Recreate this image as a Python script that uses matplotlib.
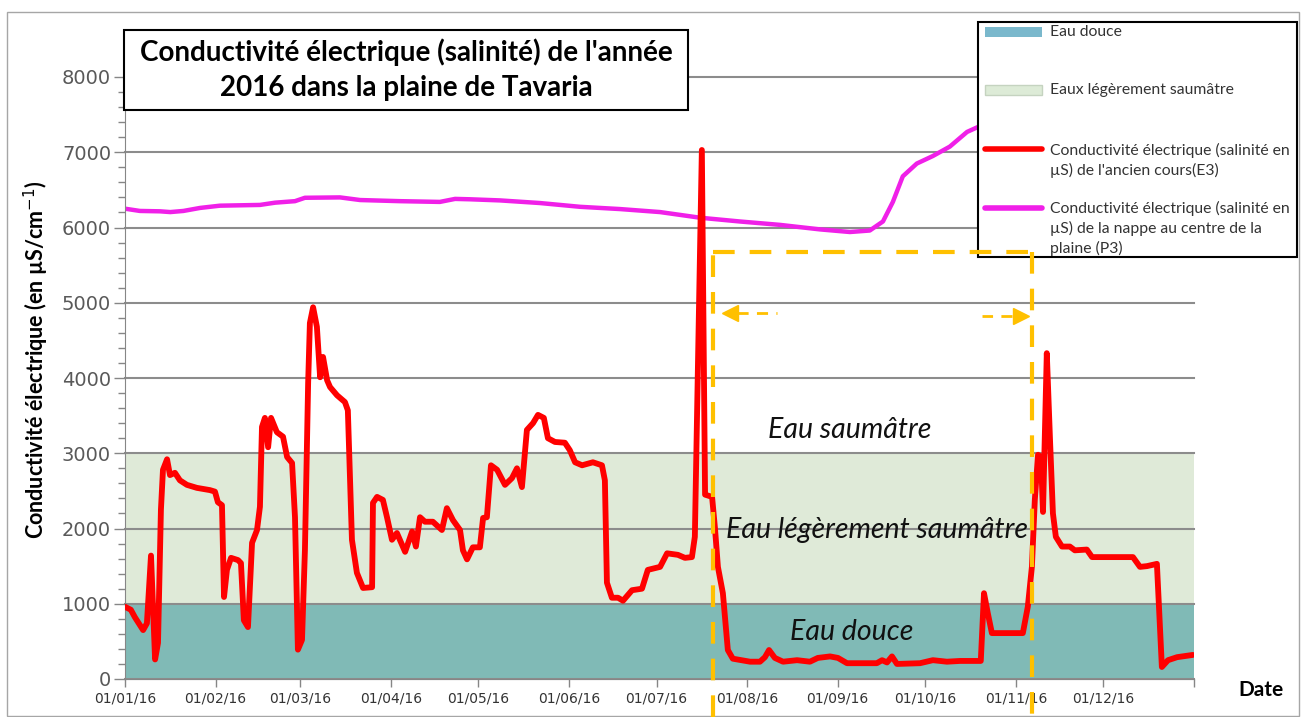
import matplotlib
matplotlib.use('Agg')
import matplotlib.pyplot as plt
import matplotlib.dates as mdates
from matplotlib.ticker import MultipleLocator, FuncFormatter
from matplotlib.patches import Rectangle
from matplotlib.lines import Line2D
import numpy as np
import pandas as pd

# ---------------- data (day offset from 01/01/2016, value in µS/cm) ----------------
e3_days = [
    0, 2, 3.4, 6.2, 7.5, 8.9, 10.3, 11.3, 12.3, 13.0,
    14.4, 15.4, 17.1, 18.8, 21.2, 24.6, 29.1, 30.8, 31.8, 33.2,
    33.9, 34.9, 36.3, 38.7, 39.7, 40.7, 42.1, 43.5, 45.2, 46.2,
    46.9, 47.9, 49.0, 50.0, 52.0, 54.1, 55.5, 57.2, 58.2, 59.2,
    60.6, 61.6, 62.7, 63.3, 64.4, 65.7, 66.8, 67.8, 69.2, 70.2,
    72.6, 75.3, 76.3, 77.7, 79.4, 81.5, 84.6, 84.9, 86.3, 88.3,
    89.7, 91.4, 93.1, 95.9, 98.3, 99.6, 101.0, 102.7, 105.4, 108.5,
    110.2, 112.3, 114.7, 115.7, 117.1, 119.1, 121.5, 122.6, 123.9, 125.3,
    127.4, 130.1, 132.5, 134.2, 135.9, 137.6, 139.7, 141.4, 143.4, 144.8,
    147.2, 150.6, 152.3, 154.1, 156.5, 160.2, 163.3, 164.3, 165.0, 166.7,
    168.8, 170.5, 173.6, 177.0, 179.0, 183.2, 185.6, 189.3, 191.7, 194.1,
    195.1, 197.5, 198.6, 201.0, 202.0, 203.0, 204.7, 206.4, 208.1, 214.0,
    217.4, 219.1, 220.5, 222.5, 225.3, 230.1, 234.5, 237.2, 241.4, 244.1,
    247.2, 257.4, 259.2, 260.9, 262.6, 264.3, 272.2, 276.6, 281.4, 285.9,
    292.0, 293.0, 294.1, 295.4, 296.8, 307.4, 309.1, 310.5, 311.5, 312.6,
    313.6, 314.3, 315.6, 316.7, 317.7, 318.7, 320.8, 323.5, 325.2, 329.3,
    331.1, 345.1, 347.5, 349.9, 353.3, 355.0, 357.1, 360.2, 365.6]
e3_values = [
    960, 920, 820, 650, 740, 1640, 260, 480, 2250, 2780,
    2920, 2710, 2740, 2640, 2580, 2540, 2510, 2490, 2350, 2310,
    1090, 1450, 1610, 1580, 1540, 780, 690, 1810, 1980, 2290,
    3350, 3470, 3080, 3470, 3280, 3220, 2950, 2870, 2150, 390,
    520, 1710, 3930, 4730, 4940, 4680, 4010, 4280, 3970, 3880,
    3770, 3680, 3570, 1850, 1410, 1210, 1220, 2340, 2420, 2380,
    2150, 1850, 1940, 1690, 1960, 1760, 2150, 2090, 2090, 1980,
    2270, 2110, 1980, 1710, 1590, 1750, 1750, 2140, 2150, 2840,
    2780, 2580, 2670, 2800, 2550, 3310, 3400, 3510, 3470, 3200,
    3150, 3140, 3040, 2880, 2840, 2880, 2840, 2640, 1280, 1080,
    1080, 1040, 1180, 1200, 1450, 1490, 1670, 1650, 1610, 1620,
    1890, 7030, 2450, 2420, 2000, 1490, 1140, 385, 270, 230,
    230, 290, 385, 280, 230, 250, 230, 280, 300, 280,
    210, 210, 250, 220, 300, 200, 210, 250, 230, 240,
    240, 240, 1140, 875, 610, 610, 960, 1490, 2380, 2980,
    2950, 2220, 4330, 3180, 2200, 1890, 1760, 1760, 1710, 1720,
    1620, 1620, 1490, 1500, 1530, 160, 250, 290, 320]

p3_days = [0, 5.1, 12, 15.5, 20, 25.7, 32.5, 46.2, 51.4, 58.2,
           61.6, 73.6, 80.5, 94.1, 107.8, 113, 118.1, 128.4, 142.1, 155.8,
           169.5, 183.2, 196.9, 210.5, 224.2, 237.9, 248.2, 255, 259.5, 262.9,
           266.3, 271.1, 276.6, 282.4, 288.3, 291.7, 300, 310]
p3_values = [6250, 6220, 6215, 6205, 6220, 6260, 6290, 6300, 6330, 6350,
             6395, 6400, 6365, 6350, 6340, 6380, 6375, 6360, 6325, 6275,
             6245, 6205, 6130, 6080, 6035, 5975, 5940, 5960, 6080, 6340,
             6680, 6850, 6950, 7075, 7270, 7330, 7450, 7550]

band_limits = [0, 1000, 3000]
band_names = ["Eau douce", "Eau légèrement saumâtre", "Eau saumâtre"]
legend_labels = ["Eau douce", "Eaux légèrement saumâtre",
                 "Conductivité électrique (salinité en\nµS) de l'ancien cours(E3)",
                 "Conductivité électrique (salinité en\nµS) de la nappe au centre de la\nplaine (P3)"]
title_lines = ["Conductivité électrique (salinité) de l'année",
               "2016 dans la plaine de Tavaria"]

# ---------------- annotation geometry (days / µS) ----------------
zone_start, zone_end, zone_top, zone_low = 201.3, 310.5, 5674, -505
arrow_left = (207.0, 209.5, 223.2, 4869)    # head centre, shaft start, shaft end, y
arrow_right = (306.6, 303.7, 293.4, 4828)
band_text_pos = [(248.9, 625), (257.4, 1980), (248.2, 3309)]

base = pd.Timestamp('2016-01-01')
def to_dates(days):
    return base + pd.to_timedelta(np.asarray(days, dtype=float), unit='D')

W, H = 1304, 717
fig = plt.figure(figsize=(W / 100, H / 100), dpi=100)
def fx(x): return x / W
def fy(y): return 1 - y / H

GRAY = '#868686'
YEL = '#FFC000'

ax = fig.add_axes([fx(125), fy(679), fx(1194) - fx(125), fy(77) - fy(679)])
ax.set_xlim(base, base + pd.Timedelta(days=366))
ax.set_ylim(0, 8000)

c_bands = ['#80BAB6', '#DFEAD8']
for i in range(2):
    ax.axhspan(band_limits[i], band_limits[i + 1], color=c_bands[i], lw=0, zorder=0.2)

ax.set_axisbelow(True)
ax.grid(axis='y', color='#8C8C8C', lw=1.5)
ax.set_yticks(np.arange(0, 8001, 1000))
ax.yaxis.set_minor_locator(MultipleLocator(200))
ax.xaxis.set_major_locator(mdates.MonthLocator())
for gl in ax.get_ygridlines():
    gl.set_clip_on(False)

def date_fmt(v, pos):
    d = mdates.num2date(v)
    return '' if d.year > 2016 else d.strftime('%d/%m/%y')
ax.xaxis.set_major_formatter(FuncFormatter(date_fmt))
ax.tick_params(axis='y', which='major', length=8, width=1, color=GRAY,
               labelsize=14, labelcolor='#595959', pad=2)
ax.tick_params(axis='y', which='minor', length=5, width=1, color=GRAY)
ax.tick_params(axis='x', length=6, width=1, color=GRAY, labelsize=10,
               labelcolor='#333333', pad=3)
for s in ['top', 'right']:
    ax.spines[s].set_visible(False)
for s in ['left', 'bottom']:
    ax.spines[s].set_color(GRAY)

ax.plot(to_dates(p3_days), p3_values, color='#F020E8', lw=3.2,
        solid_joinstyle='round', solid_capstyle='round', zorder=2)
ax.plot(to_dates(e3_days), e3_values, color='#FF0000', lw=4.2,
        solid_joinstyle='round', solid_capstyle='round', zorder=3)

for (d, v), name in zip(band_text_pos, band_names):
    ax.text(to_dates([d])[0], v, name, ha='center', va='center', fontsize=20.5,
            style='italic', family='Lato', color='#111111', zorder=4)

# labels
fig.text(fx(36), fy(360), "Conductivité électrique (en µS/cm$^{-1}$)", rotation=90,
         ha='center', va='center', fontsize=15.5, fontweight='bold', family='Lato')
fig.text(fx(1261), fy(690), "Date", ha='center', va='center', fontsize=15,
         fontweight='bold', family='Lato')

# outer chart frame
fig.add_artist(Rectangle((fx(7), fy(716)), fx(1299) - fx(7), fy(12) - fy(716),
                         transform=fig.transFigure, fill=False, ec='#A6A6A6', lw=1, zorder=1))

# title box
fig.add_artist(Rectangle((fx(124), fy(110)), fx(688) - fx(124), fy(30) - fy(110),
                         transform=fig.transFigure, fc='white', ec='black', lw=1.5, zorder=5))
fig.text(fx(406), fy(52), title_lines[0], ha='center', va='center', fontsize=20,
         fontweight='bold', family='Lato', zorder=6)
fig.text(fx(406), fy(88), title_lines[1], ha='center', va='center', fontsize=20,
         fontweight='bold', family='Lato', zorder=6)

# legend (manual, Excel-like layout)
fig.add_artist(Rectangle((fx(978), fy(257)), fx(1297) - fx(978), fy(22) - fy(257),
                         transform=fig.transFigure, fc='white', ec='black', lw=1.5, zorder=5))
fig.add_artist(Rectangle((fx(985), fy(37)), fx(1042) - fx(985), fy(27) - fy(37),
                         transform=fig.transFigure, fc='#7AB8CC', ec='none', zorder=6))
fig.add_artist(Rectangle((fx(985), fy(95)), fx(1042) - fx(985), fy(85) - fy(95),
                         transform=fig.transFigure, fc='#DDEBD7', ec='#C5D3C0', lw=1, zorder=6))
fig.add_artist(Line2D([fx(985), fx(1042)], [fy(149), fy(149)], transform=fig.transFigure,
                      color='#FF0000', lw=4, solid_capstyle='round', zorder=6))
fig.add_artist(Line2D([fx(985), fx(1042)], [fy(208), fy(208)], transform=fig.transFigure,
                      color='#F020E8', lw=4, solid_capstyle='round', zorder=6))
label_tops = [32, 90, 150, 208]
for lab, ytop in zip(legend_labels, label_tops):
    for k, line in enumerate(lab.split('\n')):
        fig.text(fx(1050), fy(ytop + 20 * k), line, ha='left', va='center',
                 fontsize=11.3, family='Lato', color='#333333', zorder=7)

# overlay axes for the dashed yellow annotations (drawn above legend)
ax2 = fig.add_axes(ax.get_position(), sharex=ax, sharey=ax, zorder=10)
ax2.patch.set_visible(False)
ax2.axis('off')
dash = dict(color=YEL, lw=3, dashes=(5.2, 3.6), clip_on=False)
ax2.plot(to_dates([zone_start, zone_start]), [zone_low, zone_top], **dash)
ax2.plot(to_dates([zone_start, zone_end]), [zone_top, zone_top], **dash)
ax2.plot(to_dates([zone_end, zone_end]), [zone_top, zone_low], **dash)
thin = dict(color=YEL, lw=2, dashes=(4, 3), clip_on=False)
ax2.plot(to_dates([arrow_left[1], arrow_left[2]]), [arrow_left[3]] * 2, **thin)
ax2.plot(to_dates([arrow_left[0]]), [arrow_left[3]], marker='<', ms=11, color=YEL, mec=YEL)
ax2.plot(to_dates([arrow_right[1], arrow_right[2]]), [arrow_right[3]] * 2, **thin)
ax2.plot(to_dates([arrow_right[0]]), [arrow_right[3]], marker='>', ms=11, color=YEL, mec=YEL)

fig.savefig('out.png', dpi=100)
